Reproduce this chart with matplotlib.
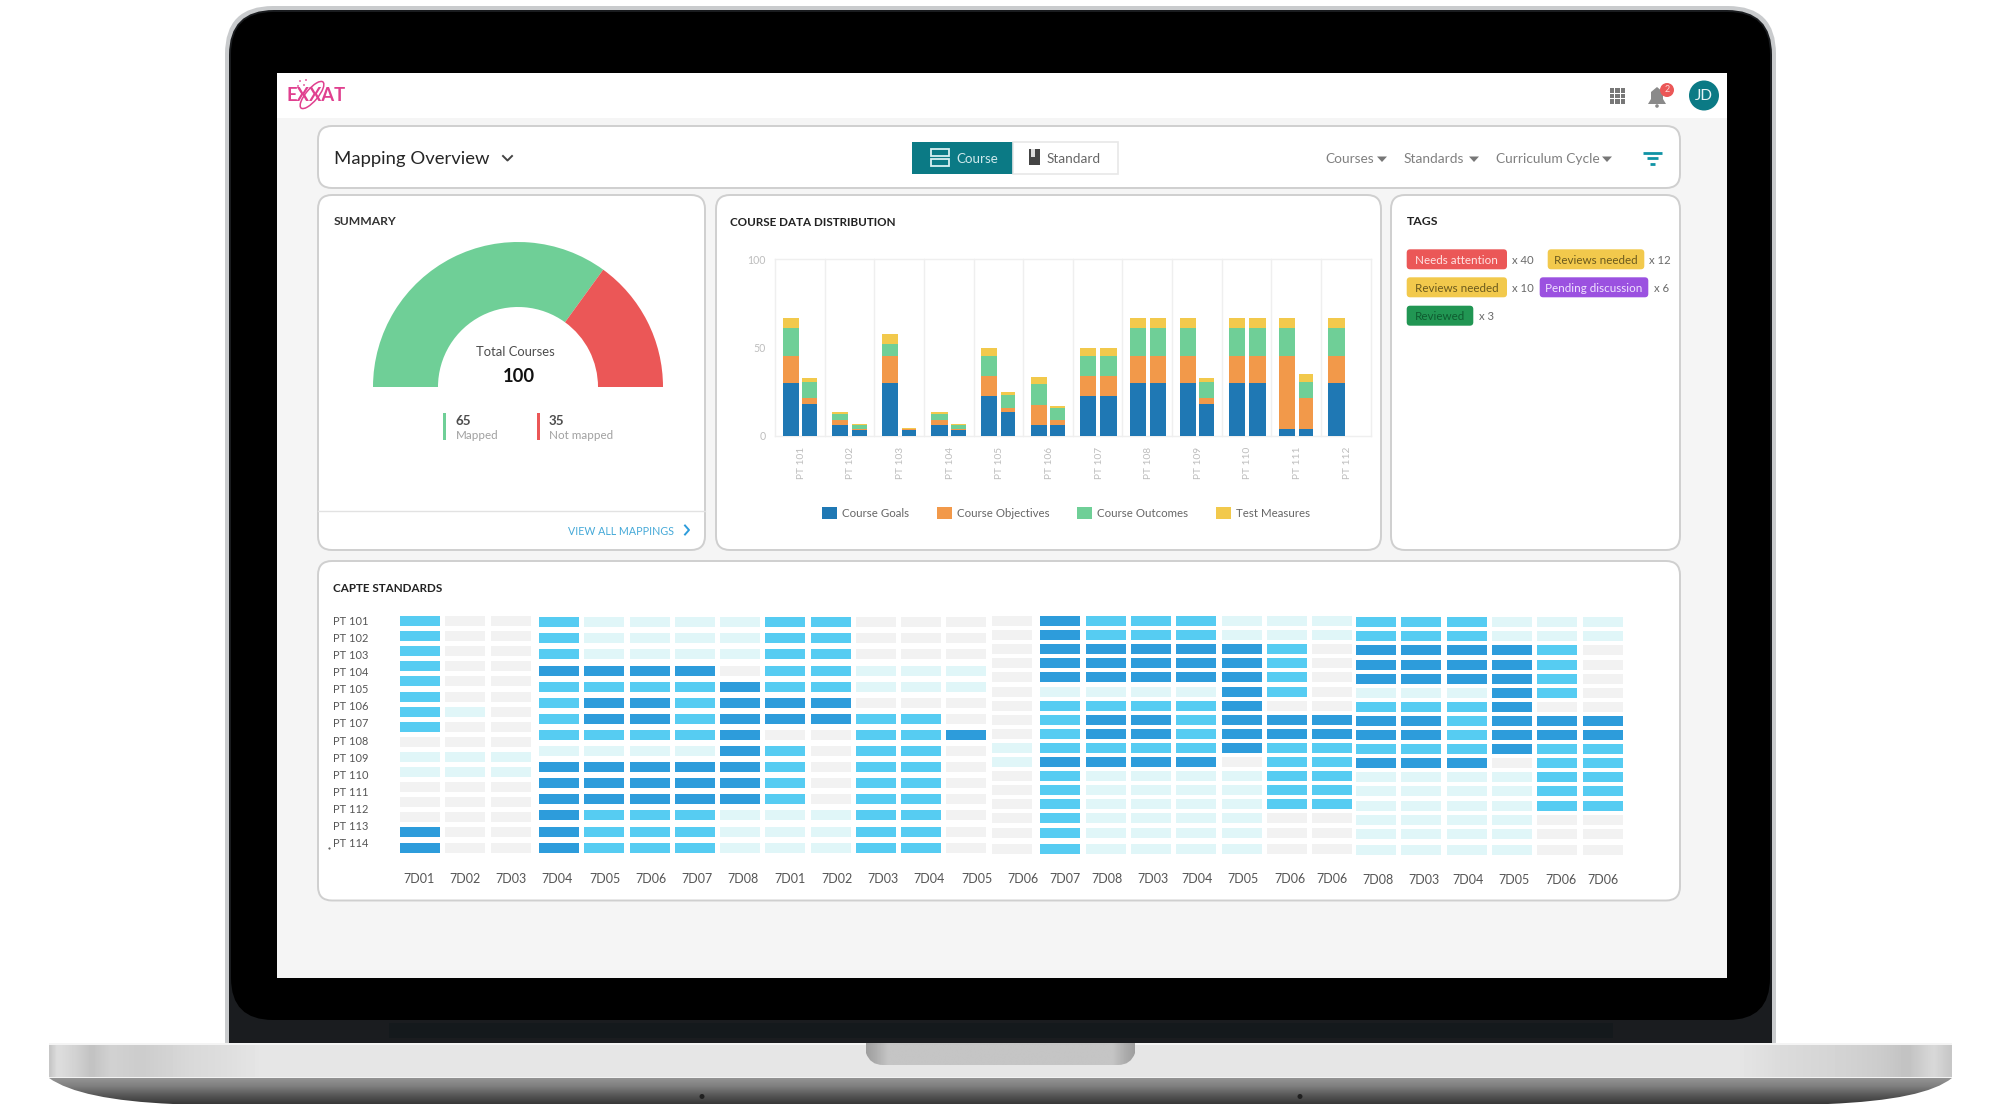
import matplotlib
matplotlib.use("Agg")
import matplotlib.pyplot as plt
import numpy as np
from matplotlib.patches import Circle, Ellipse, FancyBboxPatch, PathPatch, Polygon, Rectangle
from matplotlib.path import Path

plt.rcParams["font.family"] = ["Lato", "DejaVu Sans"]

# Stacked bars: two bars per course
COURSES = ["PT 101", "PT 102", "PT 103", "PT 104", "PT 105", "PT 106",
           "PT 107", "PT 108", "PT 109", "PT 110", "PT 111", "PT 112"]
SERIES_NAMES = ["Course Goals", "Course Objectives", "Course Outcomes", "Test Measures"]
GOALS_1 = [30, 6, 30, 6, 22.5, 6, 22.5, 30, 30, 30, 3.8, 30]
OBJECTIVES_1 = [15, 3.2, 15, 3.2, 11.5, 11.5, 11.5, 15, 15, 15, 41.5, 15]
OUTCOMES_1 = [16, 3.3, 7.3, 3.3, 11.5, 11.9, 11.5, 16, 16, 16, 16, 16]
MEASURES_1 = [5.6, 1.1, 5.6, 1.1, 4.3, 4, 4.3, 5.6, 5.6, 5.6, 5.6, 5.6]
GOALS_2 = [18, 3.6, 3.4, 3.6, 13.6, 6, 22.5, 30, 18, 30, 3.8, 0]
OBJECTIVES_2 = [3.5, 0.6, 0.4, 0.6, 2.4, 2.9, 11.5, 15, 3.5, 15, 17.7, 0]
OUTCOMES_2 = [9, 2, 0.2, 2, 7, 6.8, 11.5, 16, 9, 16, 9, 0]
MEASURES_2 = [2.5, 0.4, 0.5, 0.4, 1.7, 1.5, 4.3, 5.6, 2.5, 5.6, 4.5, 0]

# Gauge as it is drawn (the arc is not cut at 65/35 in the picture)
GAUGE_SHARES = [70, 30]
TOTAL_COURSES = "100"
MAPPED = "65"
NOT_MAPPED = "35"

# Heat map levels: 0 grey, 1 pale, 2 light blue, 3 dark blue. One list per column.
GROUP_A = [
    [2, 2, 2, 2, 2, 2, 2, 2, 0, 1, 1, 0, 0, 0, 3, 3],
    [0, 0, 0, 0, 0, 0, 1, 0, 0, 1, 1, 0, 0, 0, 0, 0],
    [0, 0, 0, 0, 0, 0, 0, 0, 0, 1, 1, 0, 0, 0, 0, 0],
]
GROUP_B = [
    [2, 2, 2, 3, 2, 2, 2, 2, 1, 3, 3, 3, 3, 3, 3],
    [1, 1, 1, 3, 2, 3, 3, 2, 1, 3, 3, 3, 2, 2, 2],
    [1, 1, 1, 3, 2, 3, 3, 2, 1, 3, 3, 3, 2, 2, 2],
    [1, 1, 1, 3, 2, 2, 2, 2, 1, 3, 3, 3, 2, 2, 2],
    [1, 1, 1, 0, 3, 3, 3, 3, 3, 3, 3, 3, 1, 1, 1],
    [2, 2, 2, 2, 2, 3, 3, 0, 2, 2, 2, 2, 1, 1, 1],
    [2, 2, 2, 2, 2, 3, 3, 0, 0, 0, 0, 0, 1, 1, 1],
    [0, 0, 0, 1, 1, 0, 2, 2, 2, 2, 2, 2, 2, 2, 2],
    [0, 0, 0, 1, 1, 0, 2, 2, 2, 2, 2, 2, 2, 2, 2],
    [0, 0, 0, 1, 1, 0, 0, 3, 0, 0, 0, 0, 0, 0, 0],
]
GROUP_C0 = [
    [0, 0, 0, 0, 0, 0, 0, 0, 0, 1, 1, 0, 0, 0, 0, 0, 0],
]
GROUP_C = [
    [3, 3, 3, 3, 3, 1, 2, 2, 2, 2, 3, 2, 2, 2, 2, 2, 2],
    [2, 2, 3, 3, 3, 1, 2, 3, 3, 2, 3, 1, 1, 1, 1, 1, 1],
    [2, 2, 3, 3, 3, 1, 2, 3, 3, 2, 3, 1, 1, 1, 1, 1, 1],
    [2, 2, 3, 3, 3, 1, 2, 2, 2, 2, 3, 1, 1, 1, 1, 1, 1],
    [1, 1, 3, 3, 3, 3, 3, 3, 3, 3, 0, 1, 1, 1, 1, 1, 1],
    [1, 1, 2, 2, 2, 2, 0, 3, 3, 2, 2, 2, 2, 2, 0, 0, 0],
    [1, 1, 0, 0, 0, 0, 0, 3, 3, 2, 2, 2, 2, 2, 0, 0, 0],
]
GROUP_D = [
    [2, 2, 3, 3, 3, 1, 2, 3, 3, 2, 3, 1, 1, 1, 1, 1, 1],
    [2, 2, 3, 3, 3, 1, 2, 3, 3, 2, 3, 1, 1, 1, 1, 1, 1],
    [2, 2, 3, 3, 3, 1, 2, 2, 2, 2, 3, 1, 1, 1, 1, 1, 1],
    [1, 1, 3, 3, 3, 3, 3, 3, 3, 3, 0, 1, 1, 1, 1, 1, 1],
    [1, 1, 2, 2, 2, 2, 0, 3, 3, 2, 2, 2, 2, 2, 0, 0, 0],
    [1, 1, 0, 0, 0, 0, 0, 3, 3, 2, 2, 2, 2, 2, 0, 0, 0],
]
HEAT_ROWS = ["PT 101", "PT 102", "PT 103", "PT 104", "PT 105", "PT 106", "PT 107",
             "PT 108", "PT 109", "PT 110", "PT 111", "PT 112", "PT 113", "PT 114"]
HEAT_COLS = ["7D01", "7D02", "7D03", "7D04", "7D05", "7D06", "7D07", "7D08", "7D01",
             "7D02", "7D03", "7D04", "7D05", "7D06", "7D07", "7D08", "7D03", "7D04",
             "7D05", "7D06", "7D06", "7D08", "7D03", "7D04", "7D05", "7D06", "7D06"]

# Tags
TAG_TEXTS = ["Needs attention", "Reviews needed", "Reviews needed", "Pending discussion", "Reviewed"]
TAG_COUNTS = ["x 40", "x 12", "x 10", "x 6", "x 3"]

# Colours
BAR_COLORS = ["#1f78b4", "#f2994a", "#6fcf97", "#f2c94c"]
HEAT_COLORS = np.array(["#f2f2f2", "#e0f6f8", "#56ccf2", "#2d9cdb"])
GREEN = "#6fcf97"
RED = "#eb5757"
TEAL = "#0b7a85"
CARD_EDGE = "#cfcfcf"

fig = plt.figure(figsize=(20, 11.16), dpi=100, facecolor="white")
ax = fig.add_axes([0, 0, 1, 1], zorder=0)
ax.set_xlim(0, 2000)
ax.set_ylim(1116, 0)
ax.axis("off")


# New axes placed by its pixel box on the 2000x1116 page
def px_axes(left, top, right, bottom):
    child = fig.add_axes([left / 2000, 1 - bottom / 1116, (right - left) / 2000, (bottom - top) / 1116], zorder=2)
    child.patch.set_alpha(0)
    return child


def rect(x0, y0, x1, y1, color, z=1, **kw):
    ax.add_patch(Rectangle((x0, y0), x1 - x0, y1 - y0, facecolor=color, edgecolor="none", zorder=z, **kw))


def rounded(x0, y0, x1, y1, radius, face, edge="none", lw=0, z=2):
    ax.add_patch(FancyBboxPatch((x0, y0), x1 - x0, y1 - y0, boxstyle=f"round,pad=0,rounding_size={radius}",
                                facecolor=face, edgecolor=edge, linewidth=lw, zorder=z))


# Lato sits about a pixel high with va=center, so everything is nudged down
def label(x, y, s, size, color="#333333", ha="left", va="center", weight="normal", **kw):
    ax.text(x, y + 1.2, s, fontsize=size, color=color, ha=ha, va=va, fontweight=weight, zorder=6, **kw)


def caret(x, y, color="#777777"):
    ax.add_patch(Polygon([(x - 5, y - 2.5), (x + 5, y - 2.5), (x, y + 3)], facecolor=color, edgecolor="none", zorder=6))


def gradient(extent, stops, values, horizontal, clip=None, z=1):
    t = np.linspace(stops[0], stops[-1], 600)
    ramp = np.interp(t, stops, values)
    img = ramp[None, :] if horizontal else ramp[:, None]
    im = ax.imshow(img, cmap="gray", vmin=0, vmax=1, aspect="auto", extent=extent, zorder=z, interpolation="bilinear")
    if clip is not None:
        im.set_clip_path(clip)
    ax.set_xlim(0, 2000)
    ax.set_ylim(1116, 0)


# Laptop lid
rounded(225, 6, 1776, 1100, 48, "#c9cbcd", z=1)
rounded(229, 10, 1772, 1100, 45, "#1a1c1f", z=1)
rounded(231, 12, 1770, 1020, 42, "#000000", z=1)
rect(389, 1023, 1613, 1038, "#14191c", z=1)

# Laptop base, bright top part
gradient((49, 1952, 1078, 1043),
         [49, 56, 75, 90, 110, 140, 190, 225, 260, 1740, 1780, 1840, 1880, 1910, 1935, 1952],
         [.78, .87, .82, .76, .82, .8, .85, .87, .9, .9, .86, .83, .8, .76, .85, .78],
         True, z=1.5)
rect(49, 1043, 1952, 1044.5, "#f4f4f4", z=1.6)
rect(49, 1076.5, 1952, 1078, "#f2f2f2", z=1.6)

# Hinge notch
notch_verts = [(866, 1043), (1135, 1043), (1135, 1053), (1131, 1065), (1118, 1065), (883, 1065), (870, 1065), (866, 1053), (866, 1043)]
notch_codes = [Path.MOVETO, Path.LINETO, Path.LINETO, Path.CURVE3, Path.CURVE3, Path.LINETO, Path.CURVE3, Path.CURVE3, Path.CLOSEPOLY]
notch = PathPatch(Path(notch_verts, notch_codes), facecolor="none", edgecolor="none", zorder=2)
ax.add_patch(notch)
gradient((866, 1135, 1065, 1043), [866, 876, 888, 1113, 1125, 1135], [.62, .68, .77, .77, .68, .62], True, clip=notch, z=2)

# Laptop base, dark curved part
lower_verts = [(49, 1078), (1952, 1078), (1925, 1100), (1828, 1104), (173, 1104), (80, 1100), (49, 1078), (49, 1078)]
lower_codes = [Path.MOVETO, Path.LINETO, Path.CURVE3, Path.CURVE3, Path.LINETO, Path.CURVE3, Path.CURVE3, Path.CLOSEPOLY]
lower = PathPatch(Path(lower_verts, lower_codes), facecolor="none", edgecolor="none", zorder=2)
ax.add_patch(lower)
gradient((49, 1952, 1104, 1078), [1078, 1086, 1096, 1104], [.58, .5, .33, .22], False, clip=lower, z=2)
ax.add_patch(Circle((702, 1096.5), 2.5, facecolor="#202020", edgecolor="none", zorder=3))
ax.add_patch(Circle((1300, 1096.5), 2.5, facecolor="#202020", edgecolor="none", zorder=3))

# Screen
rect(277, 73, 1727, 978, "#f5f5f5", z=1.8)
rect(277, 73, 1727, 118, "#ffffff", z=1.9)

# Logo
label(286, 94.5, "EXXAT", 13.2, color="#e0408f", weight="bold")
ax.add_patch(Ellipse((312, 95), 12, 34, angle=40, facecolor="none", edgecolor="#e0408f", linewidth=1.1, zorder=6))
for dot_x, dot_y in [(300, 81), (304, 85), (306, 80), (298, 86)]:
    ax.add_patch(Circle((dot_x, dot_y), 0.9, facecolor="#e0408f", edgecolor="none", zorder=6))

# Top right icons
for gx in (1612, 1617.5, 1623):
    for gy in (90.5, 96, 101.5):
        rect(gx - 2.3, gy - 2.3, gx + 2.3, gy + 2.3, "#777777", z=6)
ax.add_patch(Polygon([(1648, 104), (1651, 99), (1651, 92), (1657, 87), (1663, 92), (1663, 99), (1666, 104)],
                     facecolor="#8a8a8a", edgecolor="none", zorder=6))
ax.add_patch(Circle((1657, 106), 1.8, facecolor="#8a8a8a", edgecolor="none", zorder=6))
ax.add_patch(Circle((1667, 90), 7, facecolor=RED, edgecolor="none", zorder=7))
ax.text(1667, 90, "2", fontsize=6.5, color="#ffd9d9", ha="center", va="center", zorder=8)
ax.add_patch(Circle((1704, 95.5), 15, facecolor=TEAL, edgecolor="none", zorder=6))
label(1704, 95, "JD", 11, color="#e6f4f5", ha="center")

# Cards
rounded(318, 126, 1680, 188, 14, "white", CARD_EDGE, 1.4)
rounded(318, 195, 705, 550, 14, "white", CARD_EDGE, 1.4)
rounded(716, 195, 1381, 550, 14, "white", CARD_EDGE, 1.4)
rounded(1391, 195, 1680, 550, 14, "white", CARD_EDGE, 1.4)
rounded(318, 561, 1680, 900.5, 14, "white", CARD_EDGE, 1.4)

# Header row
label(334, 158, "Mapping Overview", 13.3, color="#262626")
ax.plot([503, 507.5, 512], [156, 160.5, 156], color="#444444", lw=1.4, zorder=6)
rect(912, 142, 1013, 174, TEAL, z=3)
ax.add_patch(Rectangle((1013, 142), 105, 32, facecolor="white", edgecolor="#e8e8e8", linewidth=1.2, zorder=3))
for top in (149, 159):
    ax.add_patch(Rectangle((931, top), 18, 7, facecolor="none", edgecolor="#d8f0f2", linewidth=1.3, zorder=6))
label(956, 158, "Course", 9.6, color="#cfe9ec")
rect(1029, 149, 1040, 165, "#444444", z=6)
rect(1031, 149, 1035, 157, "#dddddd", z=6)
label(1047, 158, "Standard", 9.8, color="#666666")
label(1325, 158, "Courses", 9.8, color="#808080")
caret(1382, 159)
label(1404, 158, "Standards", 9.9, color="#808080")
caret(1474, 159)
label(1496, 158, "Curriculum Cycle", 9.9, color="#808080")
caret(1607, 159)
ax.plot([1643, 1662], [152.7, 152.7], color="#0f93a5", lw=2, zorder=6, solid_capstyle="butt")
ax.plot([1647, 1658], [158.3, 158.3], color="#0f93a5", lw=2, zorder=6, solid_capstyle="butt")
ax.plot([1650, 1655], [163.8, 163.8], color="#0f93a5", lw=2, zorder=6, solid_capstyle="butt")

# Summary card
label(334, 220.7, "SUMMARY", 8.7, color="#333333", weight="bold")
gauge_ax = px_axes(368, 237, 668, 537)
gauge_ax.pie(GAUGE_SHARES + [sum(GAUGE_SHARES)], colors=[GREEN, RED, "none"], startangle=180,
             counterclock=False, radius=145, wedgeprops={"width": 65, "linewidth": 0})
gauge_ax.set_xlim(-150, 150)
gauge_ax.set_ylim(-150, 150)
label(515, 350.5, "Total Courses", 9.4, color="#4d4d4d", ha="center")
label(519, 375.5, TOTAL_COURSES, 13.2, color="#111111", ha="center", weight="bold")
rect(443, 413, 446, 440, GREEN, z=6)
label(455.5, 419.5, MAPPED, 9.6, color="#4d4d4d", weight="bold")
label(455.5, 434.7, "Mapped", 8.4, color="#a0a0a0")
rect(537, 413, 540, 440, RED, z=6)
label(549, 419.5, NOT_MAPPED, 9.6, color="#4d4d4d", weight="bold")
label(549, 434.7, "Not mapped", 8.4, color="#a0a0a0")
ax.plot([318, 705], [511, 511], color="#e2e2e2", lw=1, zorder=6)
label(568, 530, "VIEW ALL MAPPINGS", 7.7, color="#45a9d8")
ax.plot([685, 689, 685], [525.5, 530, 534.5], color="#2d9cdb", lw=1.4, zorder=6)

# Stacked bars
label(730, 221.5, "COURSE DATA DISTRIBUTION", 8.35, color="#222222", weight="bold")
bar_ax = px_axes(775, 259.3, 1370.5, 436)
x_pos = np.arange(len(COURSES))
left_bars = x_pos + 0.153
right_bars = x_pos + 0.55
right_widths = [0.335 if i in (6, 7, 9) else 0.295 for i in x_pos]
bottom_1 = np.zeros(len(COURSES))
bottom_2 = np.zeros(len(COURSES))
series_1 = [GOALS_1, OBJECTIVES_1, OUTCOMES_1, MEASURES_1]
series_2 = [GOALS_2, OBJECTIVES_2, OUTCOMES_2, MEASURES_2]
for name, color, vals_1, vals_2 in zip(SERIES_NAMES, BAR_COLORS, series_1, series_2):
    bar_ax.bar(left_bars, vals_1, width=0.325, bottom=bottom_1, align="edge", color=color, label=name, zorder=3)
    bar_ax.bar(right_bars, vals_2, width=right_widths, bottom=bottom_2, align="edge", color=color, zorder=3)
    bottom_1 += np.array(vals_1)
    bottom_2 += np.array(vals_2)
bar_ax.set_xlim(0, len(COURSES))
bar_ax.set_ylim(0, 100)
for spine in bar_ax.spines.values():
    spine.set_visible(False)
for edge in range(len(COURSES) + 1):
    bar_ax.axvline(edge, color="#efefef", lw=1, zorder=1, clip_on=False)
bar_ax.axhline(0, color="#efefef", lw=1, zorder=1, clip_on=False)
bar_ax.axhline(100, color="#efefef", lw=1, zorder=1, clip_on=False)
bar_ax.set_yticks([0, 50, 100])
# The rotated labels sit a little right of the band centres
bar_ax.set_xticks(x_pos + 0.53)
bar_ax.set_xticklabels(COURSES, rotation=90, fontsize=7.3, color="#bdbdbd")
bar_ax.tick_params(axis="x", length=0, pad=7.5)
bar_ax.tick_params(axis="y", length=0, pad=6.5, labelsize=7.6, labelcolor="#bdbdbd")
bar_ax.legend(loc="center", bbox_to_anchor=(0.489, -0.436), ncol=4, frameon=False, fontsize=8.25,
              labelcolor="#666666", handlelength=1.32, handleheight=1.32, handletextpad=0.44,
              columnspacing=2.4, borderpad=0, borderaxespad=0)

# Tags card
label(1407.3, 220.7, "TAGS", 8.8, color="#222222", weight="bold")
tag_boxes = [(1406.7, 1507, 249.3), (1547.7, 1644.3, 249.3), (1406.7, 1507, 277.3),
             (1539.7, 1648.3, 277.3), (1406.7, 1473.3, 305.7)]
tag_faces = [RED, "#f2c94c", "#f2c94c", "#9b51e0", "#219653"]
tag_inks = ["#ffe3e3", "#6b5a1e", "#6b5a1e", "#f0e3ff", "#0f5c30"]
count_x = [1512, 1649, 1512, 1653.7, 1479.3]
for (x0, x1, top), text, count, face, ink, cx in zip(tag_boxes, TAG_TEXTS, TAG_COUNTS, tag_faces, tag_inks, count_x):
    rounded(x0, top, x1, top + 20, 3.5, face, z=4)
    label((x0 + x1) / 2, top + 9.5, text, 8.4, color=ink, ha="center")
    label(cx, top + 9.5, count, 8.2, color="#6a6a6a")

# CAPTE standards heat map
label(333, 587.5, "CAPTE STANDARDS", 8.4, color="#222222", weight="bold")
CELL_W = 40
CELL_H = 10


def heat_group(columns, x0, y0, col_pitch, row_pitch, last_gap=None):
    n_cols = len(columns)
    n_rows = len(columns[0])
    row_tops = np.arange(n_rows) * row_pitch
    if last_gap is not None:
        row_tops[-1] = row_tops[-2] + last_gap
    hax = px_axes(x0, y0, x0 + n_cols * col_pitch, y0 + row_tops[-1] + CELL_H)
    hax.set_xlim(0, n_cols * col_pitch)
    hax.set_ylim(row_tops[-1] + CELL_H, 0)
    hax.axis("off")
    for c, levels in enumerate(columns):
        hax.bar(np.full(n_rows, c * col_pitch), CELL_H, width=CELL_W, bottom=row_tops, align="edge",
                color=HEAT_COLORS[np.array(levels)])


heat_group(GROUP_A, 400, 616, 45.25, 15.1)
heat_group(GROUP_B, 539, 617.2, 45.25, 16.1)
heat_group(GROUP_C0, 992, 616, 45.25, 14.1, last_gap=16)
heat_group(GROUP_C, 1040.2, 616, 45.35, 14.1, last_gap=16)
heat_group(GROUP_D, 1356, 617.2, 45.3, 14.1, last_gap=16)

for i, row_name in enumerate(HEAT_ROWS):
    label(333, 620 + i * 17.12, row_name, 7.9, color="#555555")
ax.plot([329], [848], marker=".", markersize=1, color="#444444", zorder=6)

col_label_x = [419, 465, 511, 557.5, 605, 651, 697, 743.5, 790, 836.5, 882.5, 929, 977, 1023,
               1064.7, 1106.7, 1153, 1197, 1243, 1290, 1332, 1378, 1424, 1468, 1514, 1561, 1603]
for i, (name, lx) in enumerate(zip(HEAT_COLS, col_label_x)):
    label(lx, 879 if i >= 21 else 878, name, 9, color="#555555", ha="center")

fig.savefig("out.png", dpi=100, facecolor="white")
